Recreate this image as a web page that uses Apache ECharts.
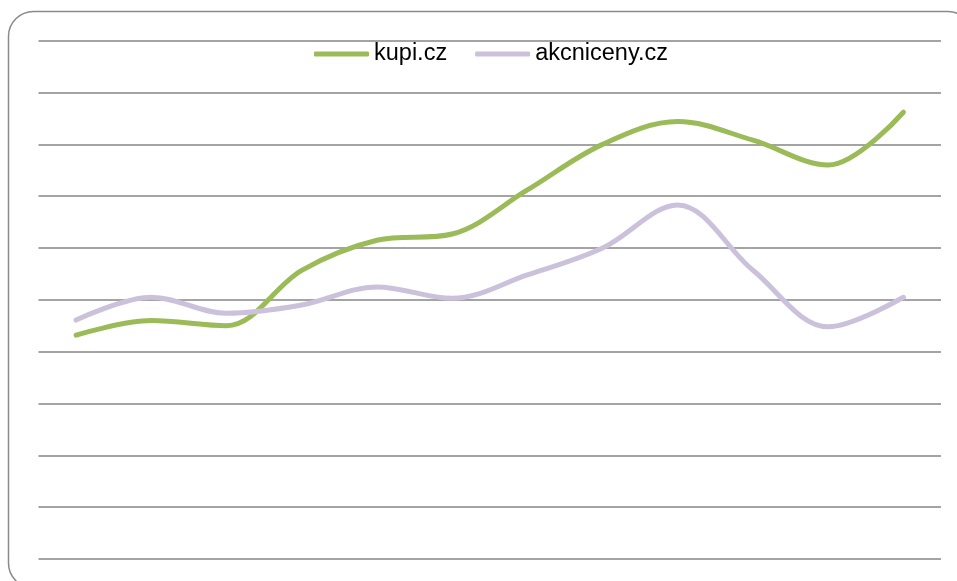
<!DOCTYPE html>
<html>
<head>
<meta charset="utf-8">
<style>
html,body{margin:0;padding:0;background:#fff;}
#chart{width:957px;height:581px;}
</style>
<script src="https://cdn.jsdelivr.net/npm/echarts@6/dist/echarts.min.js"></script>
</head>
<body>
<div id="chart"></div>
<script>
var categories = ['1','2','3','4','5','6','7','8','9','10','11','12'];
var kupiValues = [4.32, 4.6, 4.5, 5.57, 6.15, 6.27, 7.12, 8.0, 8.44, 8.08, 7.6, 8.62];
var akcnicenyValues = [4.61, 5.05, 4.74, 4.9, 5.25, 5.03, 5.48, 6.0, 6.83, 5.57, 4.48, 5.05];
var seriesNames = ['kupi.cz', 'akcniceny.cz'];

var chart = echarts.init(document.getElementById('chart'), null, {renderer: 'canvas'});
chart.setOption({
  animation: false,
  backgroundColor: '#ffffff',
  graphic: [{
    type: 'rect',
    z: 0,
    silent: true,
    shape: {x: 8.5, y: 11.5, width: 964.5, height: 576.5, r: 25},
    style: {fill: 'none', stroke: '#8a8a8a', lineWidth: 1.5}
  }],
  legend: {
    top: 37,
    left: 309,
    itemWidth: 55,
    itemHeight: 5,
    itemGap: 28,
    icon: 'roundRect',
    textStyle: {fontFamily: 'Liberation Sans, Arial, sans-serif', fontSize: 23.5, color: '#000', padding: [0, 0, 5, 0]},
    data: seriesNames
  },
  grid: {left: 38.5, right: 16, top: 40.7, bottom: 22},
  xAxis: {
    type: 'category',
    data: categories,
    boundaryGap: true,
    axisLine: {show: false},
    axisTick: {show: false},
    axisLabel: {show: false},
    splitLine: {show: false}
  },
  yAxis: {
    type: 'value',
    min: 0,
    max: 10,
    interval: 1,
    axisLine: {show: false},
    axisTick: {show: false},
    axisLabel: {show: false},
    splitLine: {show: true, lineStyle: {color: '#868686', width: 1.6}}
  },
  series: [
    {
      name: seriesNames[0],
      type: 'line',
      data: kupiValues,
      smooth: 0.35,
      showSymbol: false,
      symbol: 'none',
      lineStyle: {color: '#9BBB59', width: 5, cap: 'round'},
      itemStyle: {color: '#9BBB59'}
    },
    {
      name: seriesNames[1],
      type: 'line',
      data: akcnicenyValues,
      smooth: 0.35,
      showSymbol: false,
      symbol: 'none',
      lineStyle: {color: '#CCC1DA', width: 5, cap: 'round'},
      itemStyle: {color: '#CCC1DA'}
    }
  ]
});
</script>
</body>
</html>
